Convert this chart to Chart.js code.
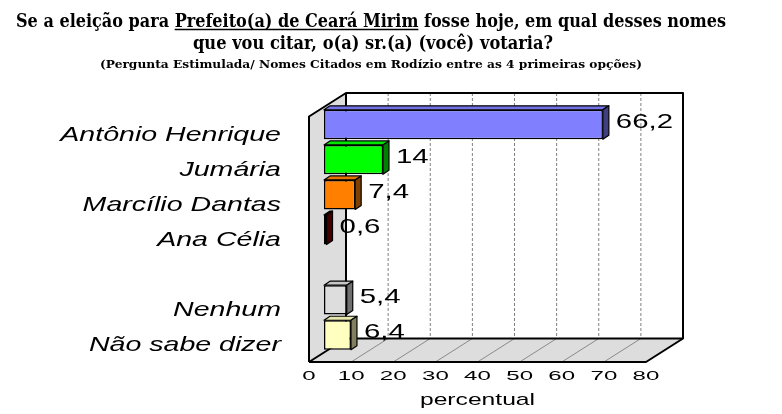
<!DOCTYPE html>
<html>
<head>
<meta charset="utf-8">
<script src="https://cdn.jsdelivr.net/npm/chart.js@4.4.1/dist/chart.umd.min.js"></script>
<style>
html,body{margin:0;padding:0;background:#fff;}
#wrap{width:782px;height:414px;position:relative;background:#fff;}
canvas{display:block;}
</style>
</head>
<body>
<div id="wrap"><canvas id="c"></canvas></div>
<script>
// ---- data ----
const titleLine1Before = 'Se a eleição para ';
const titleLine1Underlined = 'Prefeito(a) de Ceará Mirim';
const titleLine1After = ' fosse hoje, em qual desses nomes';
const titleLine2 = 'que vou citar, o(a) sr.(a) (você) votaria?';
const titleLine3 = '(Pergunta Estimulada/ Nomes Citados em Rodízio entre as 4 primeiras opções)';
const categories = ['Antônio Henrique', 'Jumária', 'Marcílio Dantas', 'Ana Célia', '', 'Nenhum', 'Não sabe dizer'];
const values = [66.2, 14, 7.4, 0.6, null, 5.4, 6.4];
const xTickMin = 0;
const xTickMax = 80;
const xTickStep = 10;
const xAxisTitle = 'percentual';
const barColors = ['#8080FF', '#00FF00', '#FF8000', '#800000', '#FFFFFF', '#DDDDDD', '#FFFFC0'];

// ---- styling helpers ----
const SANS = "'Liberation Sans', Arial, sans-serif";
const SERIF = "'DejaVu Serif', 'Liberation Serif', serif";
const FRONT = { dx: -15, dy: 9.5 };
const BACK = { dx: 22, dy: -14 };
const DEPTH = { dx: 6, dy: -4 };

function shade(hex, f) {
  const n = parseInt(hex.slice(1), 16);
  const r = Math.round(((n >> 16) & 255) * f), g = Math.round(((n >> 8) & 255) * f), b = Math.round((n & 255) * f);
  return 'rgb(' + r + ',' + g + ',' + b + ')';
}

function withStretch(ctx, sx, shiftX, fn) {
  const proto = CanvasRenderingContext2D.prototype.fillText;
  ctx.fillText = function (t, x, y) {
    ctx.save();
    ctx.translate(x + shiftX, y);
    ctx.scale(sx, 1);
    proto.call(ctx, t, 0, 0);
    ctx.restore();
  };
  try { fn(); } finally { delete ctx.fillText; }
}

function poly(ctx, pts, fill, stroke, lw) {
  ctx.beginPath();
  ctx.moveTo(pts[0][0], pts[0][1]);
  for (let i = 1; i < pts.length; i++) ctx.lineTo(pts[i][0], pts[i][1]);
  ctx.closePath();
  if (fill) { ctx.fillStyle = fill; ctx.fill(); }
  if (stroke) { ctx.strokeStyle = stroke; ctx.lineWidth = lw || 1; ctx.lineJoin = 'round'; ctx.stroke(); }
}

function line(ctx, a, b) {
  ctx.beginPath();
  ctx.moveTo(a[0], a[1]);
  ctx.lineTo(b[0], b[1]);
  ctx.stroke();
}

const stretchPlugin = {
  id: 'stretchText',
  beforeDraw(chart) {
    const ctx = chart.ctx;
    const ys = chart.scales.y, xs = chart.scales.x;
    if (!ys.__wrapped) {
      const o = ys.drawLabels;
      ys.drawLabels = function (a) { withStretch(ctx, 1.36, 0, () => o.call(this, a)); };
      ys.__wrapped = true;
    }
    if (!xs.__wrapped) {
      const o = xs.drawLabels, ot = xs.drawTitle;
      xs.drawLabels = function (a) { withStretch(ctx, 1.85, 0, () => o.call(this, a)); };
      xs.drawTitle = function () { withStretch(ctx, 1.45, FRONT.dx, () => ot.call(this)); };
      xs.__wrapped = true;
    }
  }
};

const boxPlugin = {
  id: 'box3d',
  beforeDatasetsDraw(chart) {
    const { ctx, chartArea: ca } = chart;
    const xs = chart.scales.x;
    const x0 = xs.getPixelForValue(xs.min), x1 = xs.getPixelForValue(xs.max);
    const t = ca.top, b = ca.bottom;
    const P = (x, y, o) => [x + o.dx, y + o.dy];
    ctx.save();
    // back wall
    ctx.fillStyle = '#FFFFFF';
    ctx.fillRect(x0 + BACK.dx, t + BACK.dy, x1 - x0, b - t);
    // back wall grid lines
    ctx.strokeStyle = '#808080';
    ctx.lineWidth = 1;
    ctx.setLineDash([3, 2]);
    xs.ticks.forEach(tk => {
      if (tk.value <= xs.min || tk.value >= xs.max) return;
      const px = xs.getPixelForValue(tk.value);
      line(ctx, P(px, t, BACK), P(px, b, BACK));
    });
    ctx.setLineDash([]);
    // left wall
    poly(ctx, [P(x0, t, FRONT), P(x0, t, BACK), P(x0, b, BACK), P(x0, b, FRONT)], '#DDDDDD');
    // floor
    poly(ctx, [P(x0, b, FRONT), P(x1, b, FRONT), P(x1, b, BACK), P(x0, b, BACK)], '#DDDDDD');
    // floor grid lines
    ctx.strokeStyle = '#8a8a8a';
    ctx.lineWidth = 1;
    xs.ticks.forEach(tk => {
      if (tk.value <= xs.min || tk.value >= xs.max) return;
      const px = xs.getPixelForValue(tk.value);
      line(ctx, P(px, b, FRONT), P(px, b, BACK));
    });
    // outlines
    ctx.strokeStyle = '#000';
    ctx.lineWidth = 2;
    ctx.lineJoin = 'round';
    ctx.beginPath();
    ctx.moveTo(...P(x0, b, FRONT));
    ctx.lineTo(...P(x0, t, FRONT));
    ctx.lineTo(...P(x0, t, BACK));
    ctx.lineTo(...P(x1, t, BACK));
    ctx.lineTo(...P(x1, b, BACK));
    ctx.lineTo(...P(x1, b, FRONT));
    ctx.lineTo(...P(x0, b, FRONT));
    ctx.stroke();
    ctx.beginPath();
    ctx.moveTo(...P(x0, t, BACK));
    ctx.lineTo(...P(x0, b, BACK));
    ctx.lineTo(...P(x1, b, BACK));
    ctx.stroke();
    ctx.beginPath();
    ctx.moveTo(...P(x0, b, BACK));
    ctx.lineTo(...P(x0, b, FRONT));
    ctx.stroke();
    ctx.restore();
  },
  afterDatasetsDraw(chart) {
    const ctx = chart.ctx;
    const meta = chart.getDatasetMeta(0);
    ctx.save();
    meta.data.forEach((bar, i) => {
      const v = values[i];
      if (v === null || v === undefined) return;
      const { x, y, base, height } = bar.getProps(['x', 'y', 'base', 'height'], true);
      const yt = y - height / 2, yb = y + height / 2;
      const col = barColors[i];
      poly(ctx, [[base, yt], [x, yt], [x + DEPTH.dx, yt + DEPTH.dy], [base + DEPTH.dx, yt + DEPTH.dy]], shade(col, 0.9), '#000', 1.2);
      poly(ctx, [[x, yt], [x + DEPTH.dx, yt + DEPTH.dy], [x + DEPTH.dx, yb + DEPTH.dy], [x, yb]], shade(col, 0.5), '#000', 1.2);
    });
    ctx.fillStyle = '#000';
    ctx.font = '21px ' + SANS;
    ctx.textAlign = 'left';
    ctx.textBaseline = 'middle';
    meta.data.forEach((bar, i) => {
      const v = values[i];
      if (v === null || v === undefined) return;
      const { x, y } = bar.getProps(['x', 'y'], true);
      const txt = String(v).replace('.', ',');
      ctx.save();
      ctx.translate(x + 13, y - 2.5);
      ctx.scale(1.4, 1);
      ctx.fillText(txt, 0, 0);
      ctx.restore();
    });
    ctx.restore();
  }
};

const titlePlugin = {
  id: 'titleText',
  afterDraw(chart) {
    const ctx = chart.ctx;
    ctx.save();
    ctx.fillStyle = '#000';
    ctx.textAlign = 'left';
    ctx.textBaseline = 'alphabetic';
    // line 1
    ctx.font = 'bold 18.5px ' + SERIF;
    const full = titleLine1Before + titleLine1Underlined + titleLine1After;
    const wFull = ctx.measureText(full).width;
    const wBefore = ctx.measureText(titleLine1Before).width;
    const wUnder = ctx.measureText(titleLine1Underlined).width;
    const l1Left = 16, l1Right = 726, l1Base = 27;
    const s1 = (l1Right - l1Left) / wFull;
    ctx.save(); ctx.translate(l1Left, l1Base); ctx.scale(s1, 1); ctx.fillText(full, 0, 0); ctx.restore();
    ctx.strokeStyle = '#000';
    ctx.lineWidth = 1.6;
    ctx.beginPath();
    ctx.moveTo(l1Left + wBefore * s1, l1Base + 2.5);
    ctx.lineTo(l1Left + (wBefore + wUnder) * s1, l1Base + 2.5);
    ctx.stroke();
    // line 2
    const w2 = ctx.measureText(titleLine2).width;
    const s2 = (553 - 193) / w2;
    ctx.save(); ctx.translate(193, 49); ctx.scale(s2, 1); ctx.fillText(titleLine2, 0, 0); ctx.restore();
    // line 3
    ctx.font = 'bold 11.5px ' + SERIF;
    const w3 = ctx.measureText(titleLine3).width;
    const s3 = (642 - 100) / w3;
    ctx.save(); ctx.translate(100, 68); ctx.scale(s3, 1); ctx.fillText(titleLine3, 0, 0); ctx.restore();
    ctx.restore();
  }
};

new Chart(document.getElementById('c'), {
  type: 'bar',
  data: {
    labels: categories,
    datasets: [{
      data: values,
      backgroundColor: barColors,
      borderColor: '#000',
      borderWidth: 1.5,
      borderSkipped: false,
      barPercentage: 0.84,
      categoryPercentage: 1
    }]
  },
  options: {
    indexAxis: 'y',
    responsive: true,
    maintainAspectRatio: false,
    animation: false,
    events: [],
    layout: { padding: { top: 107, right: 121, bottom: 0, left: 0 } },
    plugins: {
      legend: { display: false },
      tooltip: { enabled: false },
      title: { display: false }
    },
    scales: {
      x: {
        type: 'linear',
        min: xTickMin,
        max: xTickMax,
        grid: { display: false, drawTicks: false },
        border: { display: false },
        ticks: {
          stepSize: xTickStep,
          color: '#000',
          font: { family: SANS, size: 13 },
          padding: 16,
          labelOffset: FRONT.dx,
          maxRotation: 0,
          autoSkip: false
        },
        title: {
          display: true,
          text: xAxisTitle,
          color: '#000',
          font: { family: SANS, size: 17 },
          padding: { top: 0, bottom: 3 }
        },
        afterFit: s => { s.height = 61.5; }
      },
      y: {
        grid: { display: false, drawTicks: false },
        border: { display: false },
        ticks: {
          color: '#000',
          font: { family: SANS, size: 21, style: 'italic' },
          padding: 43,
          labelOffset: 10.5,
          autoSkip: false
        },
        afterFit: s => { s.width = 324; }
      }
    }
  },
  plugins: [stretchPlugin, boxPlugin, titlePlugin]
});
</script>
</body>
</html>
